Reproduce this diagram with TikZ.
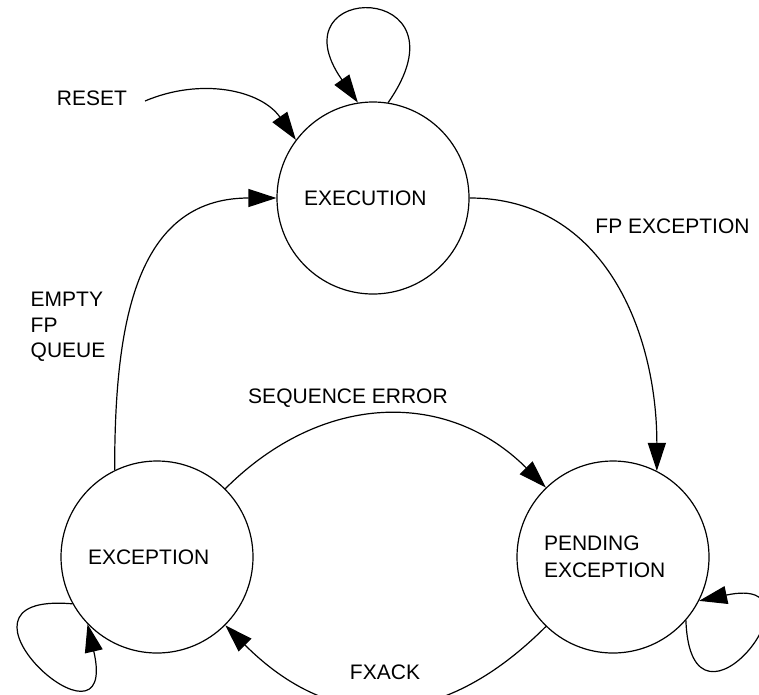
\documentclass[tikz,border=0pt]{standalone}
\usepackage{fontspec}
\setmainfont{Liberation Sans}
\usetikzlibrary{arrows.meta}
\tikzset{
  state/.style = {circle, draw=black, line width=1.2pt, minimum size=192pt,
    inner sep=0pt, text width=138pt, align=left,
    font=\fontsize{21}{27}\selectfont},% etat du FPU
  lbl/.style = {inner sep=0pt, anchor=base,
    font=\fontsize{21}{25.5}\selectfont},% texte de transition
  trans/.style = {draw=black, line width=1.2pt,
    -{Triangle[length=28pt,width=18pt]}}% transition
}

\begin{document}
\begin{tikzpicture}[x=1pt, y=-1pt]
	\useasboundingbox (0,0) rectangle (759,694);
	\clip (0,0) rectangle (759,694);
	% etats
	\node [state] (exec) at (373,198) {EXECUTION};
	\node [state] (exc) at (157,557) {EXCEPTION};
	\node [state] (pend) at (613,557) {PENDING\\EXCEPTION};
	% textes
	\node [lbl] (reset) at (92,105) {RESET};
	\node [lbl] (fpexc) at (672.5,233) {FP EXCEPTION};
	\node [lbl, anchor=north west, align=left] (empty) at (30.5,292) {EMPTY\\FP\\QUEUE};
	\node [lbl] (seqerr) at (348,403) {SEQUENCE ERROR};
	\node [lbl] (fxack) at (385,679) {FXACK};
	\coordinate (reset-in) at (145,101);
	% transitions
	\draw [trans] (reset-in) to[out=23, in=125] (exec.143);
	\draw [trans] (exec.81) to[out=55, in=125, looseness=12.7] (exec.99);
	\draw [trans] (exec.east) to[out=0, in=90, looseness=1.05] (pend.63);
	\draw [trans] (exc.116) to[out=90, in=180, looseness=1.15] (exec.west);
	\draw [trans] (exc.45) to[out=45, in=135, looseness=1.1] (pend.134);
	\draw [trans] (pend.226) to[out=225, in=-45, looseness=1.2] (exc.315);
	\draw [trans] (exc.209) to[out=175, in=283, looseness=15] (exc.224);
	\draw [trans] (pend.319) to[out=272, in=12, looseness=15] (pend.333);
\end{tikzpicture}
\end{document}
